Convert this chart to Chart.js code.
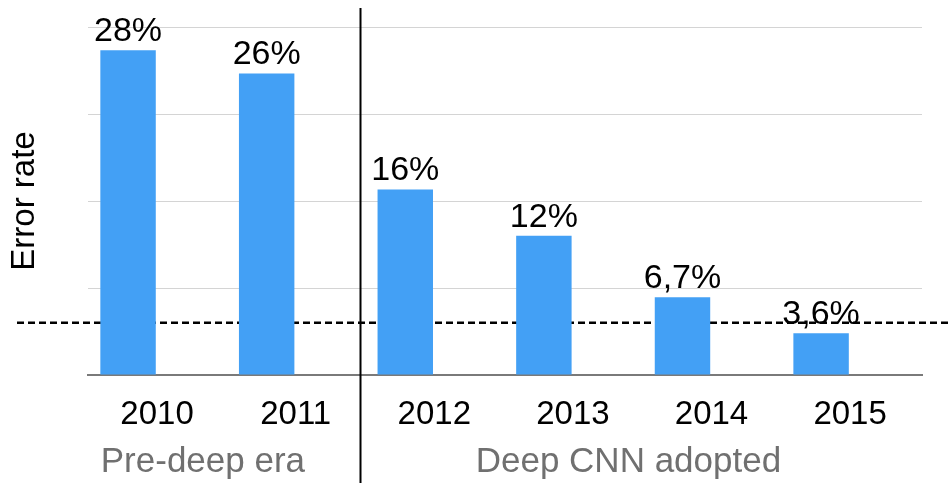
<!DOCTYPE html>
<html>
<head>
<meta charset="utf-8">
<script src="https://cdn.jsdelivr.net/npm/chart.js@4"></script>
<style>
  html, body { margin: 0; padding: 0; background: #fff; }
  #wrap { width: 949px; height: 483px; }
</style>
</head>
<body>
<div id="wrap"><canvas id="errorChart"></canvas></div>
<script>
// Values
const years = [2010, 2011, 2012, 2013, 2014, 2015];
const errorRates = [28, 26, 16, 12, 6.7, 3.6];
const rateLabels = ['28%', '26%', '16%', '12%', '6,7%', '3,6%'];
const humanLevel = 4.5;          // dashed reference line
const eraSplit = 2011.67;        // vertical divider between the two eras
const eraNames = ['Pre-deep era', 'Deep CNN adopted'];
const eraCenters = [2010.54, 2013.61];

const FONT = '"Liberation Sans", Arial, Helvetica, sans-serif';

// Dashed line behind the bars
const humanLine = {
    id: 'humanLine',
    beforeDatasetsDraw(chart) {
        const ctx = chart.ctx;
        const y = chart.scales.y.getPixelForValue(humanLevel);
        ctx.save();
        ctx.strokeStyle = '#000';
        ctx.lineWidth = 2.5;
        ctx.setLineDash([7, 4]);
        ctx.beginPath();
        ctx.moveTo(17, y);
        ctx.lineTo(chart.width, y);
        ctx.stroke();
        ctx.restore();
    }
};

// Value labels on top of each bar
const barLabels = {
    id: 'barLabels',
    afterDatasetsDraw(chart) {
        const ctx = chart.ctx;
        const meta = chart.getDatasetMeta(0);
        ctx.save();
        ctx.fillStyle = '#000';
        ctx.font = '34px ' + FONT;
        ctx.textAlign = 'center';
        ctx.textBaseline = 'alphabetic';
        meta.data.forEach(function(bar, i) {
            ctx.fillText(rateLabels[i], bar.x, bar.y - 9);
        });
        ctx.restore();
    }
};

// Era divider and era names under the axis
const eras = {
    id: 'eras',
    afterDraw(chart) {
        const ctx = chart.ctx;
        const x = chart.scales.x;
        const splitX = Math.round(x.getPixelForValue(eraSplit)) + 0.5;
        ctx.save();
        ctx.strokeStyle = '#000';
        ctx.lineWidth = 2;
        ctx.beginPath();
        ctx.moveTo(splitX, 8);
        ctx.lineTo(splitX, chart.height);
        ctx.stroke();

        ctx.fillStyle = '#707070';
        ctx.font = '35px ' + FONT;
        ctx.textAlign = 'center';
        ctx.textBaseline = 'alphabetic';
        eraNames.forEach(function(name, i) {
            ctx.fillText(name, x.getPixelForValue(eraCenters[i]), chart.chartArea.bottom + 97);
        });
        ctx.restore();
    }
};

new Chart(document.getElementById('errorChart'), {
    type: 'bar',
    data: {
        datasets: [{
            data: years.map(function(yr, i) { return { x: yr, y: errorRates[i] }; }),
            backgroundColor: '#43a0f5',
            borderWidth: 0,
            barPercentage: 0.4,
            categoryPercentage: 1
        }]
    },
    options: {
        responsive: true,
        maintainAspectRatio: false,
        animation: false,
        devicePixelRatio: 1,
        layout: {
            padding: { top: 27, right: 27, left: 0, bottom: 0 }
        },
        plugins: {
            legend: { display: false },
            tooltip: { enabled: false }
        },
        scales: {
            x: {
                type: 'linear',
                offset: false,
                min: 2009.711,
                max: 2015.728,
                afterBuildTicks: function(axis) {
                    axis.ticks = years.map(function(v) { return { value: v }; });
                },
                afterFit: function(axis) { axis.height = 108; },
                grid: { display: false, drawTicks: false },
                border: { display: true, color: '#7a7a7a', width: 2 },
                ticks: {
                    color: '#000',
                    font: { family: FONT, size: 33 },
                    padding: 20,
                    labelOffset: 29,
                    maxRotation: 0,
                    autoSkip: false,
                    callback: function(v) { return String(v); }
                }
            },
            y: {
                min: 0,
                max: 30,
                afterFit: function(axis) { axis.width = 88; },
                ticks: { display: false, stepSize: 7.5 },
                grid: { color: '#d4d4d4', lineWidth: 1, drawTicks: false },
                border: { display: false },
                title: {
                    display: true,
                    text: 'Error rate',
                    color: '#000',
                    font: { family: FONT, size: 33 },
                    padding: { top: 5, bottom: 0 }
                }
            }
        }
    },
    plugins: [humanLine, barLabels, eras]
});
</script>
</body>
</html>
